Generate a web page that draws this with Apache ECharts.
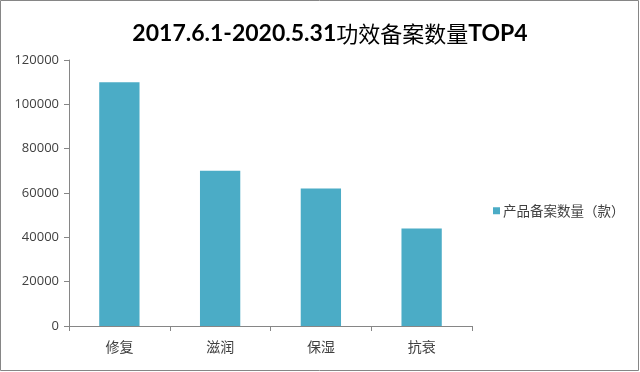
<!DOCTYPE html>
<html>
<head>
<meta charset="utf-8">
<script src="https://cdn.jsdelivr.net/npm/echarts@6/dist/echarts.min.js"></script>
<style>
html,body{margin:0;padding:0;background:#fff;}
#c{width:640px;height:372px;}
</style>
</head>
<body>
<div id="c"></div>
<script>
const titlePart1 = '2017.6.1-2020.5.31';
const titlePart2 = '功效备案数量';
const titlePart3 = 'TOP4';
const categories = ['修复', '滋润', '保湿', '抗衰'];
const seriesName = '产品备案数量（款）';
const values = [110000, 70000, 62000, 44000];
const yMin = 0, yMax = 120000, yStep = 20000;

const chart = echarts.init(document.getElementById('c'), null, {renderer: 'canvas'});
chart.setOption({
  backgroundColor: '#ffffff',
  animation: false,
  title: {
    text: '{a|' + titlePart1 + '}{b|' + titlePart2 + '}{a|' + titlePart3 + '}',
    left: 325, top: 17, textAlign: 'center',
    textStyle: {
      rich: {
        a: {fontFamily: 'Lato, sans-serif', fontWeight: 'bold', fontSize: 23, color: '#000'},
        b: {fontFamily: '"Noto Sans CJK SC", sans-serif', fontWeight: 'normal', fontSize: 22, color: '#000'}
      }
    }
  },
  legend: {
    data: [seriesName],
    left: 488, top: 199,
    icon: 'rect', itemWidth: 7, itemHeight: 7, itemGap: 4,
    textStyle: {fontFamily: '"Noto Sans CJK SC", sans-serif', fontSize: 13.5, color: '#404040', padding: [0,0,0,-2]}
  },
  grid: {left: 69, right: 168, top: 60, bottom: 46, containLabel: false},
  xAxis: {
    type: 'category', data: categories,
    axisLine: {lineStyle: {color: '#868686', width: 1}},
    axisTick: {show: true, length: 5, alignWithLabel: false, lineStyle: {color: '#868686'}},
    axisLabel: {margin: 14, fontFamily: '"Noto Sans CJK SC", sans-serif', fontSize: 14, color: '#404040'}
  },
  yAxis: {
    type: 'value', min: yMin, max: yMax, interval: yStep,
    axisLine: {show: true, lineStyle: {color: '#868686', width: 1}},
    axisTick: {show: true, length: 5, lineStyle: {color: '#868686'}},
    splitLine: {show: false},
    axisLabel: {margin: 10, fontFamily: '"Open Sans", sans-serif', fontSize: 13, color: '#404040',
      formatter: function (v) { return String(v); }}
  },
  series: [{
    name: seriesName, type: 'bar', data: values,
    barWidth: '40%',
    itemStyle: {color: '#4BACC6'}
  }],
  graphic: [{
    type: 'rect', z: 100, silent: true,
    shape: {x: 0.5, y: 0.5, width: 638, height: 370},
    style: {fill: 'none', stroke: '#868686', lineWidth: 1}
  }]
});
</script>
</body>
</html>
